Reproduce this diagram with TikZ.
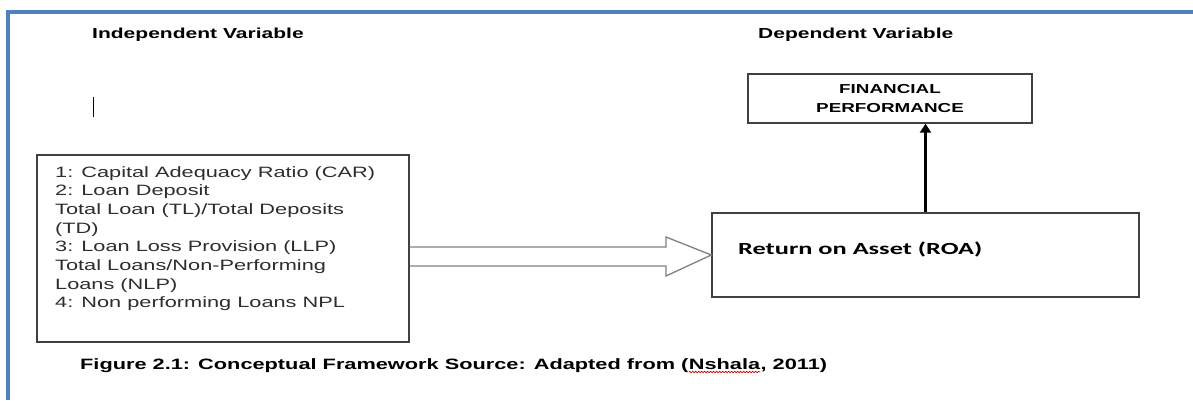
\documentclass[tikz,border=0pt]{standalone}
\usepackage{fontspec}
\setmainfont{Liberation Sans}[FakeStretch=1.45]
\newfontfamily\roafont{Carlito}[FakeStretch=1.55]
\usetikzlibrary{arrows.meta}
\usetikzlibrary{positioning}
\usetikzlibrary{calc}
\usetikzlibrary{decorations.pathmorphing}

\definecolor{framblue}{RGB}{79,129,189}
\definecolor{boxgray}{RGB}{64,64,64}
\definecolor{txtgray}{RGB}{45,45,45}

\begin{document}
\begin{tikzpicture}[x=1pt,y=-1pt,
    heading/.style={inner sep=0pt,font=\bfseries\fontsize{14.5}{17}\selectfont},
    capt/.style={inner sep=0pt,font=\bfseries\fontsize{15}{18}\selectfont},
    box/.style={draw=boxgray,line width=1.4pt,inner sep=0pt},
    hollow/.style={draw=gray,line width=1.3pt,line join=miter},
    uparrow/.style={line width=3pt,-{Triangle[length=9pt,width=11pt]}}]
   \useasboundingbox (0,0) rectangle (1193,400);
   \draw[framblue,line width=4pt] (7.5,400) -- (7.5,11.5) -- (1193,11.5);

   \node[heading,anchor=base west] (indep) at (92,38) {Independent Variable};
   \node[heading,anchor=base west] (dep)   at (758,38) {Dependent Variable};
   \draw[line width=1pt] (93,97) -- (93,117);

   \node[box,minimum width=284pt,minimum height=49pt,align=center,
         font=\bfseries\fontsize{13}{19}\selectfont] (fin) at (890,98.5) {FINANCIAL\\PERFORMANCE};
   \node[box,minimum width=427pt,minimum height=84pt] (roa) at (925.5,255) {};
   \node[inner sep=0pt,anchor=west,font=\roafont\bfseries\fontsize{17}{20}\selectfont] (roatxt) at (738,249) {Return on Asset (ROA)};

   \node[box,minimum width=372pt,minimum height=187pt] (vars) at (223,248.5) {};
   \node[inner sep=0pt,anchor=north west,align=left,text=txtgray,
         font=\fontsize{15}{18.7}\selectfont] (varlist) at (55,166)
      {1: Capital Adequacy Ratio (CAR)\\
       2: Loan Deposit\\
       Total Loan (TL)/Total Deposits\\
       (TD)\\
       3: Loan Loss Provision (LLP)\\
       Total Loans/Non-Performing\\
       Loans (NLP)\\
       4: Non performing Loans NPL};

   % double arrow into ROA
   \draw[hollow] (vars.east |- 0,247) -- (666,247) -- (666,237) -- (roa.west)
      -- (666,276) -- (666,266) -- (vars.east |- 0,266);
   \draw[uparrow] (roa.north) -- (roa.north |- fin.south);

   % caption, with the spell check mark
   \node[capt,anchor=base west] (capA) at (80,369) {Figure 2.1: Conceptual Framework Source: Adapted from (};
   \node[capt,anchor=base west] (nsh) at (capA.base east) {Nshala};
   \node[capt,anchor=base west] (capB) at (nsh.base east) {, 2011)};
   \draw[red!80!black,line width=0.6pt,decorate,decoration={snake,amplitude=0.8pt,segment length=3pt}]
      ([yshift=-3pt]nsh.base west) -- ([yshift=-3pt]nsh.base east);
\end{tikzpicture}
\end{document}
